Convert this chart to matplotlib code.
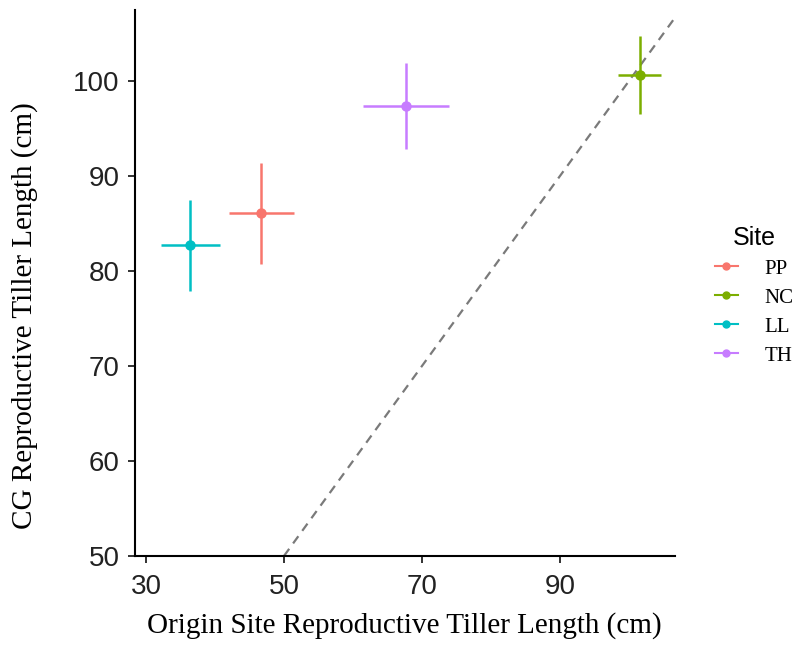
import numpy as np
import matplotlib
matplotlib.use("Agg")
import matplotlib.pyplot as plt
from matplotlib.lines import Line2D

# 데이터
sites = ["PP", "NC", "LL", "TH"]
origin_mean = [46.7, 101.6, 36.4, 67.7]
origin_err = [4.7, 3.1, 4.3, 6.2]
cg_mean = [86.1, 100.7, 82.7, 97.4]
cg_err = [5.3, 4.1, 4.8, 4.5]
colors = ["#F8766D", "#7CAE00", "#00BFC4", "#C77CFF"]

x_ticks = [30, 50, 70, 90]
y_ticks = [50, 60, 70, 80, 90, 100]

fig = plt.figure(figsize=(7.99, 6.49), dpi=100)
ax = fig.add_axes([135 / 799, 93 / 649, 540 / 799, 546 / 649])

# 1:1 기준선
line_x = np.array([50, 106.7])
ax.plot(line_x, line_x, color="#7a7a7a", linestyle=(0, (4, 3)), linewidth=1.6, zorder=1)

for i in range(len(sites)):
    ax.errorbar(origin_mean[i], cg_mean[i], xerr=origin_err[i], yerr=cg_err[i],
                fmt="o", color=colors[i], markersize=6.5, elinewidth=1.8,
                capsize=0, zorder=3)

ax.set_xlim(28.4, 106.7)
ax.set_ylim(50, 107.5)
ax.set_xticks(x_ticks)
ax.set_yticks(y_ticks)
ax.tick_params(direction="out", length=5, width=1.3, labelsize=20, colors="#222222")
ax.tick_params(axis="y", pad=6)
ax.tick_params(axis="x", pad=8)
for lab in ax.get_xticklabels() + ax.get_yticklabels():
    lab.set_family("Liberation Sans")
    lab.set_color("#222222")
ax.spines[["top", "right"]].set_visible(False)
ax.spines[["left", "bottom"]].set_linewidth(1.5)

ax.set_xlabel("Origin Site Reproductive Tiller Length (cm)", family="Liberation Serif",
              fontsize=21)
ax.set_ylabel("CG Reproductive Tiller Length (cm)", family="Liberation Serif",
              fontsize=21)
ax.xaxis.set_label_coords(0.498, -0.103)
ax.yaxis.set_label_coords(-0.18, 0.44)

handles = [Line2D([0], [0], color=c, marker="o", markersize=5, linewidth=1.5) for c in colors]
leg = fig.legend(handles, sites, loc="upper left", bbox_to_anchor=(696 / 799, 1 - 207 / 649),
                 frameon=False, title="Site", handlelength=1.1, handletextpad=1.3,
                 labelspacing=0.45, prop={"family": "Liberation Serif", "size": 15})
leg.get_title().set_family("Liberation Sans")
leg.get_title().set_fontsize(18)

fig.savefig("out.png", dpi=100, facecolor="white")
